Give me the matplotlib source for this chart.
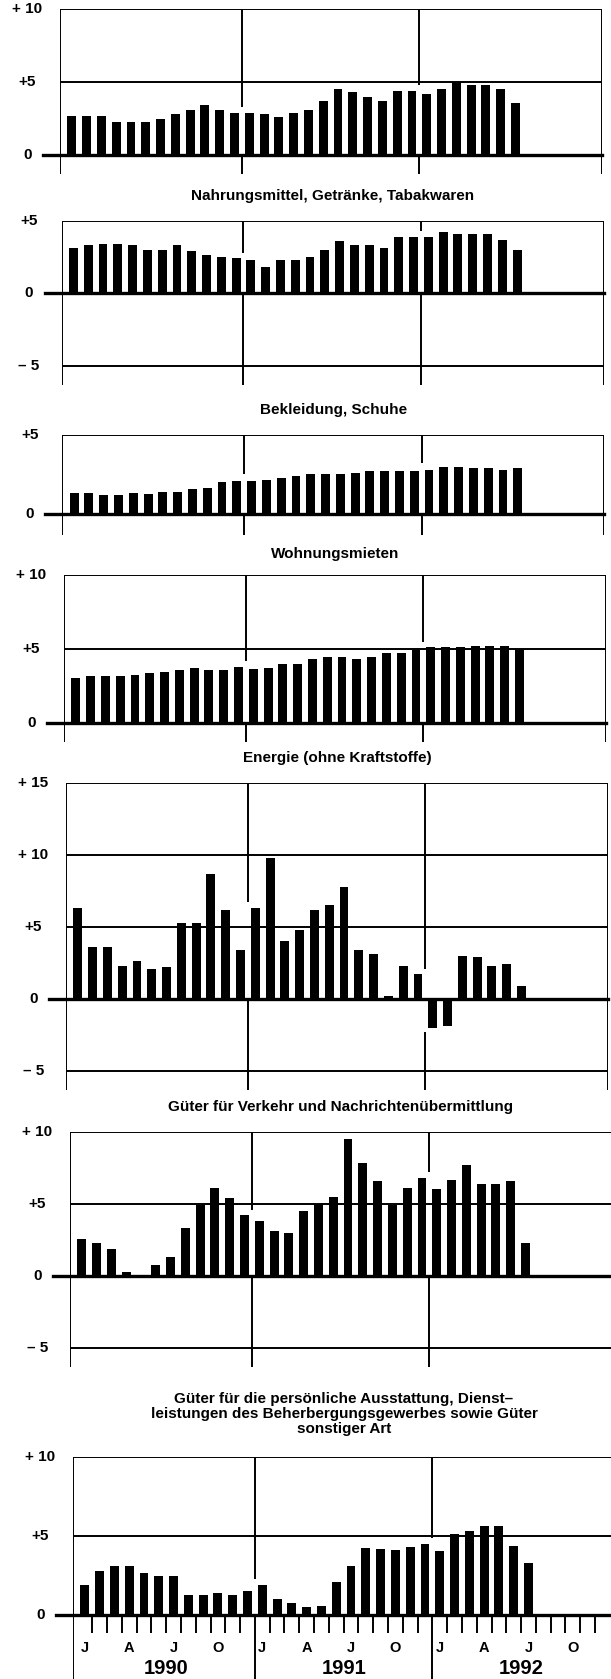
import matplotlib.pyplot as plt
import numpy as np

plt.rcParams['font.family'] = ['Liberation Sans', 'DejaVu Sans']
plt.rcParams['font.weight'] = 'bold'

# monthly change against previous year, Jan 1990 .. Jul 1992 (in %)
months = np.arange(31)
month_names = ['J', 'A', 'J', 'O']
years = ['1990', '1991', '1992']

total = [2.7, 2.7, 2.7, 2.3, 2.3, 2.3, 2.5, 2.8, 3.1, 3.4, 3.1, 2.9,
         2.9, 2.8, 2.6, 2.9, 3.1, 3.7, 4.5, 4.3, 4.0, 3.7, 4.4, 4.4,
         4.2, 4.5, 5.0, 4.8, 4.8, 4.5, 3.6]
food = [3.1, 3.3, 3.4, 3.4, 3.3, 3.0, 3.0, 3.3, 2.9, 2.6, 2.5, 2.4,
        2.3, 1.8, 2.3, 2.3, 2.5, 3.0, 3.6, 3.3, 3.3, 3.1, 3.9, 3.9,
        3.9, 4.2, 4.1, 4.1, 4.1, 3.7, 3.0]
clothing = [1.3, 1.3, 1.2, 1.2, 1.3, 1.25, 1.4, 1.4, 1.6, 1.65, 2.05, 2.1,
            2.1, 2.15, 2.3, 2.4, 2.5, 2.55, 2.55, 2.6, 2.75, 2.75, 2.75, 2.75,
            2.8, 3.0, 2.95, 2.9, 2.9, 2.8, 2.9]
rents = [3.05, 3.15, 3.15, 3.15, 3.2, 3.4, 3.45, 3.6, 3.7, 3.6, 3.6, 3.75,
         3.65, 3.7, 4.0, 4.0, 4.3, 4.45, 4.45, 4.35, 4.45, 4.7, 4.7, 4.9,
         5.1, 5.15, 5.15, 5.2, 5.2, 5.2, 5.0]
energy = [6.3, 3.6, 3.6, 2.3, 2.6, 2.1, 2.2, 5.3, 5.25, 8.7, 6.2, 3.4,
          6.3, 9.8, 4.0, 4.8, 6.15, 6.5, 7.75, 3.4, 3.1, 0.2, 2.3, 1.7,
          -2.0, -1.9, 3.0, 2.9, 2.3, 2.4, 0.9]
transport = [2.55, 2.3, 1.9, 0.25, 0.1, 0.8, 1.3, 3.35, 4.9, 6.1, 5.4, 4.2,
             3.8, 3.15, 2.95, 4.5, 5.0, 5.45, 9.5, 7.8, 6.6, 4.9, 6.1, 6.8,
             6.0, 6.65, 7.7, 6.4, 6.4, 6.6, 2.3]
personal = [1.9, 2.8, 3.1, 3.1, 2.65, 2.5, 2.5, 1.3, 1.3, 1.4, 1.3, 1.55,
            1.9, 1.0, 0.75, 0.5, 0.55, 2.1, 3.1, 4.25, 4.2, 4.1, 4.3, 4.5,
            4.05, 5.1, 5.35, 5.65, 5.65, 4.4, 3.3]

titles = [None,
          "Nahrungsmittel, Getränke, Tabakwaren",
          "Bekleidung, Schuhe",
          "Wohnungsmieten",
          "Energie (ohne Kraftstoffe)",
          "Güter für Verkehr und Nachrichtenübermittlung",
          "Güter für die persönliche Ausstattung, Dienst–\n"
          "leistungen des Beherbergungsgewerbes sowie Güter\n"
          "sonstiger Art"]
series = [total, food, clothing, rents, energy, transport, personal]

# layout in pixels: (ymin, ymax, ylim bottom, top px, bottom px, left px, title y px)
layout = [(0, 10, -1.3, 9.3, 174, 60, None),
          (-5, 5, -6.3, 220.7, 384.5, 61.6, 196),
          (0, 5, -1.3, 435, 534.5, 62.3, 410),
          (0, 10, -1.3, 575, 742, 64, 554),
          (-5, 15, -6.3, 782.7, 1089.8, 66, 758),
          (-5, 10, -6.3, 1131.7, 1367, 70, 1107),
          (0, 10, -4.04, 1457, 1679, 73, 1414)]

W, H = 611, 1679
x0, x1 = -0.8, 35.85
dividers = [11.5, 23.5]
lw = 1.4


def tick_text(v):
    if v == 0:
        return "0"
    if v < 0:
        return "– %d" % abs(v)
    if v >= 10:
        return "+ %d" % v
    return "+%d" % v


fig = plt.figure(figsize=(W / 100, H / 100), dpi=100)

for k, vals in enumerate(series):
    ymin, ymax, ybot, top, bot, left, ty = layout[k]
    ax = fig.add_axes([left / W, 1 - bot / H, 542 / W, (bot - top) / H])
    ax.set_xlim(x0, x1)
    ax.set_ylim(ybot, ymax)
    ax.axis('off')

    ax.bar(months, vals, width=0.6, color='black', zorder=3)

    for y in range(ymin, ymax + 1, 5):
        if y == 0:
            ax.plot([x0 - 1.15, x1], [0, 0], color='black', lw=2.4,
                    clip_on=False, zorder=4)
        else:
            ax.plot([x0, x1], [y, y], color='black', lw=lw, zorder=2)
        ax.text(x0 - 2.2, y, tick_text(y), ha='center', va='center',
                fontsize=11, fontweight='bold')

    ax.vlines([x0, x1], ybot, ymax, color='black', lw=lw)
    for d in dividers:
        a, b = vals[int(d - 0.5)], vals[int(d + 0.5)]
        hi = max(a, b, 0) + 0.4
        lo = min(a, b, 0) - (0.3 if min(a, b) < 0 else 0)
        ax.vlines(d, hi, ymax, color='black', lw=lw)
        ax.vlines(d, ybot, lo, color='black', lw=lw)

    if ty is not None:
        fig.text((left + 271) / W, 1 - ty / H, titles[k], ha='center',
                 va='center', fontsize=11, fontweight='bold', linespacing=1.05)

    if k == len(series) - 1:
        ticks = [i + 0.5 for i in range(35) if i not in (11, 23)]
        ax.vlines(ticks, -1.1, 0, color='black', lw=lw)
        for yr in range(3):
            for m, name in enumerate(month_names):
                ax.text(12 * yr + 3 * m, -2.1, name, ha='center',
                        va='center', fontsize=10.5, fontweight='bold')
            ax.text(12 * yr + 5.5, -3.35, years[yr], ha='center',
                    va='center', fontsize=14.5, fontweight='bold')

fig.savefig("out.png", dpi=100)
